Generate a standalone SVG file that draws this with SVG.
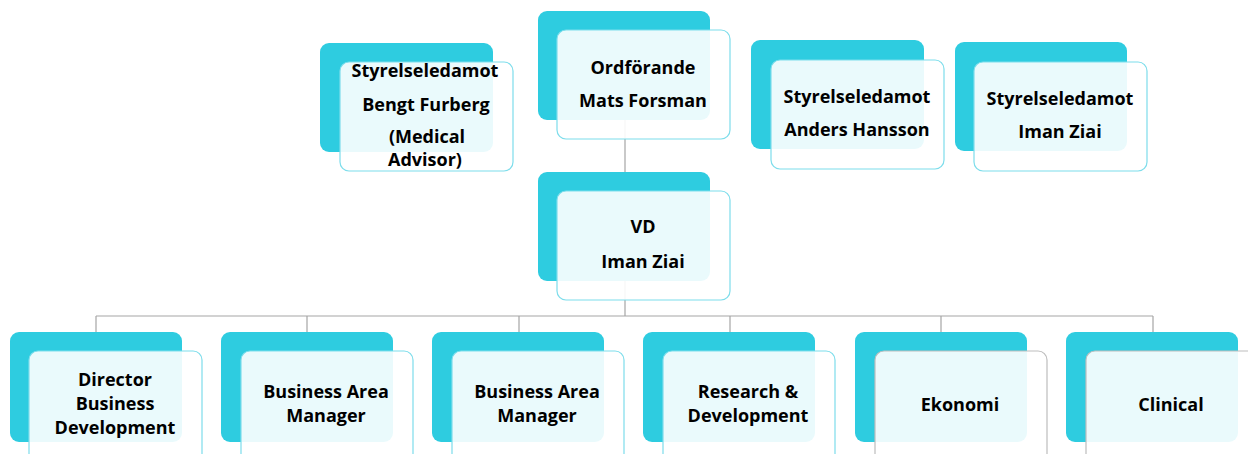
<svg xmlns="http://www.w3.org/2000/svg" width="1248" height="454" viewBox="0 0 1248 454">
<style>
.back{fill:#2ECCE0}
.front{fill:#fff;fill-opacity:0.9;stroke:#7DDDEB;stroke-width:1.2}
.gray{stroke:#BDBDBD}
.conn{stroke:#A6A6A6;stroke-width:1.2;fill:none}
text{font-family:"Open Sans","Liberation Sans",sans-serif;font-weight:bold;font-size:18px;fill:#000;text-anchor:middle}
</style>
<rect width="1248" height="454" fill="#fff"/>
<g id="connectors">
<path class="conn" d="M625,120V172M625,281V316M96,316H1153M96,316V332M307,316V332M519,316V332M730,316V332M941,316V332M1153,316V332"/>
</g>
<g id="n-bengt">
<rect class="back" x="320" y="43" width="173" height="109" rx="9"/>
<rect class="front" x="340" y="62" width="173" height="109" rx="9"/>
<text x="425" y="77">Styrelseledamot</text>
<text x="426" y="111">Bengt Furberg</text>
<text x="427" y="143">(Medical</text>
<text x="425" y="166">Advisor)</text>
</g>
<g id="n-ordf">
<rect class="back" x="538" y="11" width="172" height="109" rx="9"/>
<rect class="front" x="557" y="30" width="173" height="109" rx="9"/>
<text x="643" y="74">Ordförande</text>
<text x="643" y="107">Mats Forsman</text>
</g>
<g id="n-anders">
<rect class="back" x="751" y="40" width="173" height="109" rx="9"/>
<rect class="front" x="771" y="60" width="173" height="109" rx="9"/>
<text x="857" y="103">Styrelseledamot</text>
<text x="857" y="136">Anders Hansson</text>
</g>
<g id="n-iman-board">
<rect class="back" x="955" y="42" width="172" height="109" rx="9"/>
<rect class="front" x="974" y="62" width="173" height="109" rx="9"/>
<text x="1060" y="105">Styrelseledamot</text>
<text x="1060" y="138">Iman Ziai</text>
</g>
<g id="n-vd">
<rect class="back" x="538" y="172" width="172" height="109" rx="9"/>
<rect class="front" x="557" y="191" width="173" height="109" rx="9"/>
<text x="643" y="233">VD</text>
<text x="643" y="268">Iman Ziai</text>
</g>
<g id="n-director">
<rect class="back" x="10" y="332" width="172" height="110" rx="9"/>
<rect class="front" x="29" y="351" width="173" height="115" rx="9"/>
<text x="115" y="386">Director</text>
<text x="115" y="410">Business</text>
<text x="115" y="434">Development</text>
</g>
<g id="n-bam1">
<rect class="back" x="221" y="332" width="172" height="110" rx="9"/>
<rect class="front" x="241" y="351" width="172" height="115" rx="9"/>
<text x="326" y="398">Business Area</text>
<text x="326" y="422">Manager</text>
</g>
<g id="n-bam2">
<rect class="back" x="432" y="332" width="172" height="110" rx="9"/>
<rect class="front" x="452" y="351" width="172" height="115" rx="9"/>
<text x="537" y="398">Business Area</text>
<text x="537" y="422">Manager</text>
</g>
<g id="n-rd">
<rect class="back" x="643" y="332" width="172" height="110" rx="9"/>
<rect class="front" x="663" y="351" width="172" height="115" rx="9"/>
<text x="748" y="398">Research &amp;</text>
<text x="748" y="422">Development</text>
</g>
<g id="n-ekonomi">
<rect class="back" x="855" y="332" width="172" height="110" rx="9"/>
<rect class="front gray" x="875" y="351" width="172" height="115" rx="9"/>
<text x="960" y="411">Ekonomi</text>
</g>
<g id="n-clinical">
<rect class="back" x="1066" y="332" width="172" height="110" rx="9"/>
<rect class="front gray" x="1086" y="351" width="172" height="115" rx="9"/>
<text x="1171" y="411">Clinical</text>
</g>
</svg>
